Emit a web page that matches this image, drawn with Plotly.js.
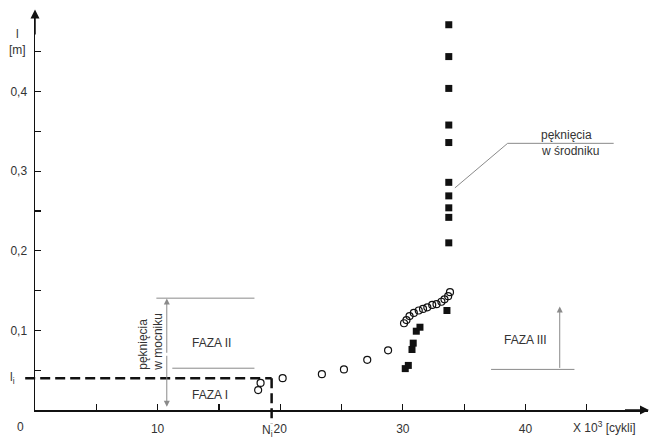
<!DOCTYPE html>
<html>
<head>
<meta charset="utf-8">
<script src="https://cdn.plot.ly/plotly-3.0.1.min.js"></script>
<style>html,body{margin:0;padding:0;background:#fff}#chart{width:650px;height:439px}</style>
</head>
<body>
<div id="chart"></div>
<script>
// ---- data ----
const circleN = [18.2, 18.4, 20.2, 23.4, 25.2, 27.1, 28.8, 30.1, 30.3, 30.55, 30.9, 31.3, 31.65, 32.0, 32.4, 32.75, 33.15, 33.4, 33.7, 33.85];
const circleL = [0.025, 0.034, 0.040, 0.045, 0.051, 0.063, 0.075, 0.109, 0.113, 0.118, 0.122, 0.125, 0.127, 0.129, 0.132, 0.133, 0.136, 0.139, 0.143, 0.148];
const squareN = [30.2, 30.45, 30.75, 30.85, 31.1, 31.4, 33.6, 33.75, 33.75, 33.75, 33.75, 33.75, 33.75, 33.75, 33.75, 33.75, 33.75];
const squareL = [0.052, 0.056, 0.076, 0.084, 0.099, 0.104, 0.125, 0.210, 0.242, 0.254, 0.269, 0.286, 0.336, 0.358, 0.404, 0.444, 0.484];
const xTickVals = [5, 10, 15, 20, 25, 30, 35, 40, 45];
const xTickText = ['', '10', '', '20', '', '30', '', '40', ''];
const yTickVals = [0.05, 0.1, 0.15, 0.2, 0.25, 0.3, 0.35, 0.4, 0.45];
const yTickText = ['', '0,1', '', '0,2', '', '0,3', '', '0,4', ''];
const Ni = 19.3, Li = 0.040;

// ---- layout helpers ----
const X0 = 0, X1 = 50, Y0 = 0, Y1 = 0.5;
const px = x => (x - X0) / (X1 - X0);
const py = y => (y - Y0) / (Y1 - Y0);
const font = {family: 'Liberation Sans, Arial, sans-serif', size: 12, color: '#333'};
const gray = '#8a8a8a';

function seg(x0, y0, x1, y1, color, width, dash) {
  return {type: 'line', xref: 'paper', yref: 'paper', x0: px(x0), y0: py(y0), x1: px(x1), y1: py(y1),
          line: {color: color, width: width, dash: dash || 'solid'}};
}
function txt(x, y, text, extra) {
  return Object.assign({xref: 'paper', yref: 'paper', x: px(x), y: py(y), text: text, showarrow: false,
    xanchor: 'center', yanchor: 'middle', font: font}, extra || {});
}
function arrow(x, y, ax, ay, color, width) {
  return {xref: 'paper', yref: 'paper', axref: 'paper', ayref: 'paper', x: px(x), y: py(y), ax: px(ax), ay: py(ay),
          text: '', showarrow: true, arrowhead: 2, arrowsize: 1.2, arrowwidth: width, arrowcolor: color, standoff: 0};
}

const traces = [
  {x: circleN, y: circleL, type: 'scatter', mode: 'markers', cliponaxis: false,
   marker: {symbol: 'circle-open', size: 7, color: '#111', line: {width: 1.2, color: '#111'}}},
  {x: squareN, y: squareL, type: 'scatter', mode: 'markers', cliponaxis: false,
   marker: {symbol: 'square', size: 7, color: '#111'}}
];

const shapes = [
  seg(-0.8, Li, Ni, Li, '#111', 2.5, '10px,5px'),
  seg(Ni, Li, Ni, -0.017, '#111', 2.5, '10px,5px'),
  seg(9.9, 0.1405, 17.9, 0.1405, gray, 1),
  seg(11.2, 0.0525, 17.9, 0.0525, gray, 1),
  seg(37.2, 0.051, 44.0, 0.051, gray, 1),
  seg(34.25, 0.279, 38.55, 0.335, gray, 1),
  seg(38.55, 0.335, 47.2, 0.335, gray, 1)
];

const annotations = [
  arrow(50.1, 0, 48, 0, '#111', 1.5),
  arrow(0, 0.503, 0, 0.47, '#111', 1.5),
  arrow(10.75, 0.140, 10.75, 0.07, gray, 1),
  arrow(10.75, 0.004, 10.75, 0.07, gray, 1),
  arrow(42.8, 0.130, 42.8, 0.051, gray, 1),
  txt(-1.2, -0.021, '0'),
  txt(46.45, -0.021, 'X 10<sup>3</sup> [cykli]'),
  txt(-1.4, 0.462, 'l<br>[m]'),
  txt(-1.85, Li, 'l<sub>i</sub>'),
  txt(18.95, -0.027, 'N<sub>i</sub>'),
  txt(14.3, 0.019, 'FAZA I'),
  txt(14.4, 0.084, 'FAZA II'),
  txt(40.0, 0.088, 'FAZA III'),
  txt(9.4, 0.086, 'pęknięcia<br>w mocniku', {textangle: -90, align: 'left'}),
  txt(41.15, 0.346, 'pęknięcia', {xanchor: 'left'}),
  txt(41.1, 0.325, 'w środniku', {xanchor: 'left'})
];

const axisCommon = {showgrid: false, zeroline: false, showline: true, linecolor: '#111', linewidth: 1.5,
  ticks: 'inside', ticklen: 6, tickwidth: 1.2, tickcolor: '#111', tickmode: 'array', tickfont: font, fixedrange: true};

const layout = {
  width: 650, height: 439,
  margin: {l: 35, r: 2, t: 12, b: 29, pad: 0},
  paper_bgcolor: '#fff', plot_bgcolor: '#fff',
  showlegend: false,
  xaxis: Object.assign({}, axisCommon, {range: [X0, X1], tickvals: xTickVals, ticktext: xTickText, ticklabelstandoff: 7}),
  yaxis: Object.assign({}, axisCommon, {range: [Y0, Y1], tickvals: yTickVals, ticktext: yTickText, ticklabelstandoff: 4}),
  shapes: shapes,
  annotations: annotations
};

Plotly.newPlot('chart', traces, layout, {displayModeBar: false, staticPlot: true});
</script>
</body>
</html>
